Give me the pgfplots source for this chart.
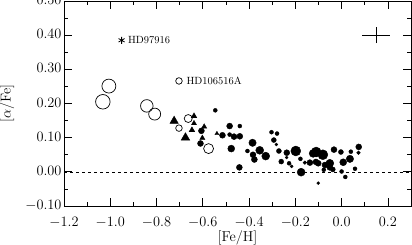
\documentclass[border=0pt]{standalone}
\usepackage{pgfplots}
\pgfplotsset{compat=1.18}
\usepackage{pgfplotstable}

\pgfplotstableread{
x y r
-1.032 0.205 7.3
-1.006 0.251 7.0
-0.842 0.193 6.3
-0.808 0.169 6.0
-0.703 0.266 3.3
-0.663 0.156 4.0
-0.703 0.128 3.3
-0.575 0.068 5.0
}\opencircles

\pgfplotstableread{
x y r
-0.724 0.149 4.8
-0.675 0.100 5.0
-0.638 0.163 3.3
-0.638 0.142 2.9
-0.647 0.122 3.3
-0.594 0.132 3.0
-0.602 0.099 3.0
-0.539 0.112 2.3
}\triangles

\pgfplotstableread{
x y r
-0.546 0.180 2.0
-0.606 0.120 3.0
-0.610 0.083 3.0
-0.515 0.107 3.0
-0.484 0.134 3.0
-0.484 0.109 2.0
-0.465 0.103 3.0
-0.440 0.134 2.0
-0.440 0.104 3.0
-0.477 0.068 3.5
-0.442 0.013 3.0
-0.385 0.085 3.7
-0.407 0.061 2.0
-0.383 0.050 3.0
-0.377 0.036 3.0
-0.354 0.063 4.0
-0.328 0.046 4.0
-0.303 0.116 2.0
-0.279 0.112 2.0
-0.293 0.093 2.5
-0.282 0.080 1.5
-0.271 0.061 2.5
-0.261 0.030 2.5
-0.237 0.056 3.0
-0.238 0.042 1.5
-0.227 0.025 2.0
-0.216 0.016 1.5
-0.198 0.061 5.0
-0.175 -0.001 4.0
-0.178 0.038 2.0
-0.159 0.027 1.8
-0.137 0.027 3.0
-0.123 0.054 4.0
-0.110 0.058 5.0
-0.081 0.050 5.0
-0.111 0.029 3.0
-0.101 0.025 3.0
-0.072 0.020 3.0
-0.051 0.025 4.0
-0.051 0.013 3.0
-0.038 0.007 2.5
-0.101 -0.033 1.5
-0.077 0.006 2.0
-0.033 0.065 3.0
-0.003 0.058 2.5
0.007 0.028 3.5
0.000 0.001 2.0
0.016 -0.015 2.0
0.036 0.038 3.7
0.040 0.059 2.0
0.058 0.009 2.0
0.074 0.073 3.0
0.073 0.056 1.8
}\filled

\begin{document}
\begin{tikzpicture}
\begin{axis}[
  scale only axis,
  width=347bp, height=205bp,
  xmin=-1.2, xmax=0.3, ymin=-0.1, ymax=0.5,
  xtick={-1.2,-1.0,...,0.21},
  ytick={-0.1,0,...,0.51},
  minor x tick num=1, minor y tick num=1,
  tick align=inside,
  xtick pos=both, ytick pos=both,
  xticklabel pos=bottom, yticklabel pos=left,
  major tick length=8bp, minor tick length=4bp,
  axis line style={line width=0.8pt},
  every tick/.style={black, line width=0.7pt},
  tick label style={font=\fontsize{13.5}{15}\selectfont},
  xticklabel style={yshift=-8bp, /pgf/number format/.cd, fixed, fixed zerofill, precision=1},
  yticklabel style={xshift=1bp, yshift=1bp, /pgf/number format/.cd, fixed, fixed zerofill, precision=2},
  xlabel={$[\mathrm{Fe/H}]$},
  ylabel={$[\alpha/\mathrm{Fe}]$},
  label style={font=\fontsize{14.5}{16}\selectfont},
  xlabel style={at={([yshift=-32bp]axis description cs:0.5,0)}, anchor=center},
  ylabel style={at={([xshift=-57bp]axis description cs:0,0.5)}, anchor=center},
  clip=false,
]
\coordinate (sw) at (rel axis cs:0,0);
\coordinate (ne) at (rel axis cs:1,1);

\addplot[black, line width=0.6pt, dash pattern=on 3bp off 3bp] coordinates {(-1.2,0) (0.3,0)};

\addplot[black, line width=0.6pt] coordinates {(0.09,0.40) (0.21,0.40)};
\addplot[black, line width=0.6pt] coordinates {(0.15,0.3766) (0.15,0.4234)};

\addplot[scatter, only marks, mark=*,
  scatter/use mapped color={draw=black, fill=black},
  visualization depends on={\thisrow{r}\as\rr},
  scatter/@pre marker code/.append style={/tikz/mark size=\rr}]
  table[x=x,y=y] {\filled};

\addplot[scatter, only marks, mark=triangle*,
  scatter/use mapped color={draw=black, fill=black},
  visualization depends on={\thisrow{r}\as\rr},
  scatter/@pre marker code/.append style={/tikz/mark size=\rr}]
  table[x=x,y=y] {\triangles};

\addplot[scatter, only marks, mark=o,
  scatter/use mapped color={draw=black},
  mark options={line width=0.7pt},
  visualization depends on={\thisrow{r}\as\rr},
  scatter/@pre marker code/.append style={/tikz/mark size=\rr}]
  table[x=x,y=y] {\opencircles};

\addplot[only marks, mark=asterisk, mark size=3.5, black, mark options={line width=0.8pt}]
  coordinates {(-0.951,0.385)};

\node[anchor=west, font=\fontsize{10.5}{12}\selectfont, inner sep=0pt] at (axis cs:-0.924,0.385) {HD97916};
\node[anchor=west, font=\fontsize{10.5}{12}\selectfont, inner sep=0pt] at (axis cs:-0.671,0.266) {HD106516A};
\end{axis}
\pgfresetboundingbox
\path[use as bounding box] ([xshift=-64bp,yshift=-39bp]sw) rectangle ([xshift=1bp,yshift=1bp]ne);
\end{tikzpicture}
\end{document}
